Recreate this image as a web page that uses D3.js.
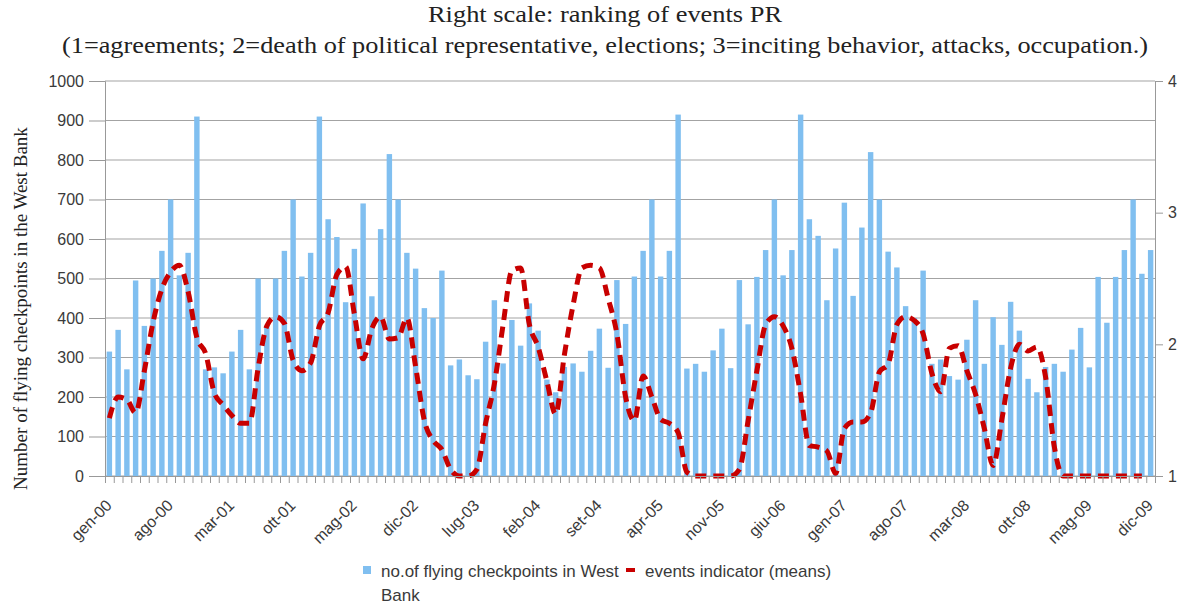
<!DOCTYPE html>
<html>
<head>
<meta charset="utf-8">
<script src="https://cdn.jsdelivr.net/npm/d3@7"></script>
<style>
    body { margin: 0; background: #fff; }
    svg { display: block; }
    .axis text { font-family: "Liberation Sans", Arial, sans-serif; font-size: 16px; fill: #3a3a3a; }
    .axis path, .axis line { stroke: #999999; }
    .serif { font-family: "Liberation Serif", "Times New Roman", serif; fill: #222; }
    .legend text { font-family: "Liberation Sans", Arial, sans-serif; font-size: 17px; fill: #3a3a3a; }
</style>
</head>
<body>
<svg id="chart" width="1180" height="608"></svg>
<script>
"use strict"

// month labels (Italian)
const monthNames = ["gen", "feb", "mar", "apr", "mag", "giu", "lug", "ago", "set", "ott", "nov", "dic"]
const years = ["00", "01", "02", "03", "04", "05", "06", "07", "08", "09"]

const tickLabels = ["gen-00", "ago-00", "mar-01", "ott-01", "mag-02", "dic-02", "lug-03", "feb-04", "set-04",
    "apr-05", "nov-05", "giu-06", "gen-07", "ago-07", "mar-08", "ott-08", "mag-09", "dic-09"]

// no. of flying checkpoints in West Bank (left scale), one per month
const checkpoints = [
    315, 370, 270, 495, 380, 500, 570, 700, 508, 565, 910, 270,
    275, 260, 315, 370, 270, 500, 380, 500, 570, 700, 505, 565,
    910, 650, 605, 440, 575, 690, 455, 625, 815, 700, 565, 525,
    425, 400, 520, 280, 295, 255, 245, 340, 445, 285, 395, 330,
    437, 368, 244, 212, 276, 285, 264, 317, 373, 274, 496, 385,
    505, 570, 700, 505, 570, 915, 272, 284, 264, 318, 373, 273,
    496, 384, 504, 572, 700, 508, 572, 915, 650, 608, 445, 576,
    692, 456, 629, 820, 700, 568, 528, 430, 400, 520, 284, 295,
    253, 244, 345, 445, 284, 402, 332, 441, 368, 246, 212, 276,
    284, 264, 320, 375, 275, 504, 388, 504, 572, 700, 512, 572
]

// events indicator (means), right scale
const eventsIndicator = [
    1.44, 1.60, 1.58, 1.48, 1.80, 2.17, 2.42, 2.55, 2.60, 2.40, 2.05, 1.93,
    1.63, 1.54, 1.46, 1.40, 1.40, 1.82, 2.14, 2.21, 2.16, 1.88, 1.80, 1.86,
    2.14, 2.24, 2.53, 2.59, 2.23, 1.89, 2.12, 2.21, 2.04, 2.05, 2.20, 1.83,
    1.42, 1.27, 1.20, 1.05, 1.00, 1.00, 1.05, 1.40, 1.70, 2.15, 2.56, 2.58,
    2.15, 1.98, 1.72, 1.47, 1.92, 2.30, 2.58, 2.60, 2.58, 2.35, 2.08, 1.60,
    1.42, 1.76, 1.60, 1.43, 1.40, 1.33, 1.03, 1.00, 1.00, 1.00, 1.00, 1.00,
    1.05, 1.42, 1.80, 2.15, 2.21, 2.14, 1.97, 1.62, 1.23, 1.22, 1.19, 1.02,
    1.36, 1.41, 1.41, 1.48, 1.79, 1.85, 2.15, 2.21, 2.18, 2.08, 1.78, 1.64,
    1.97, 1.99, 1.80, 1.62, 1.36, 1.08, 1.43, 1.82, 2.00, 1.95, 1.98, 1.75,
    1.22, 1.00, 1.00, 1.00, 1.00, 1.00, 1.00, 1.00, 1.00, 1.00, 1.00, null
]

const leftTicks = [0, 100, 200, 300, 400, 500, 600, 700, 800, 900, 1000]
const rightTicks = [1, 2, 3, 4]

const titleLines = [
    "Right scale: ranking of events PR",
    "(1=agreements; 2=death of political representative, elections; 3=inciting behavior, attacks, occupation.)"
]
const titleWidths = [354, 1086]
const yLabel = "Number of flying checkpoints in the West Bank"
const legendBars = ["no.of flying checkpoints in West", "Bank"]
const legendLine = "events indicator (means)"


const months = years.flatMap(yy => monthNames.map(m => m + "-" + yy))

const plot = { left: 105, right: 1155, top: 81, bottom: 476 }
const svg = d3.select("#chart")

const x = d3.scaleBand()
    .domain(months)
    .range([plot.left, plot.right])
    .paddingInner(0.38)
    .paddingOuter(0.19)

const xIndex = d3.scaleLinear()
    .domain([0, months.length])
    .range([plot.left, plot.right])

const y = d3.scaleLinear()
    .domain([0, 1000])
    .range([plot.bottom, plot.top])

const y2 = d3.scaleLinear()
    .domain([1, 4])
    .range([plot.bottom, plot.top])

// title
svg.selectAll(".title")
    .data(titleLines)
    .join("text")
    .attr("class", "title serif")
    .attr("x", 605)
    .attr("y", (d, i) => 22 + i * 31)
    .attr("text-anchor", "middle")
    .attr("textLength", (d, i) => titleWidths[i])
    .attr("lengthAdjust", "spacingAndGlyphs")
    .style("font-size", "23px")
    .text(d => d)

// gridlines
svg.append("g")
    .selectAll("line")
    .data(leftTicks)
    .join("line")
    .attr("x1", plot.left)
    .attr("x2", plot.right)
    .attr("y1", d => y(d))
    .attr("y2", d => y(d))
    .attr("stroke", "#a3a3a3")
    .attr("stroke-width", 1.2)

// bars
svg.append("g")
    .selectAll("rect")
    .data(checkpoints)
    .join("rect")
    .attr("x", (d, i) => x(months[i]))
    .attr("y", d => y(d))
    .attr("width", x.bandwidth())
    .attr("height", d => y(0) - y(d))
    .attr("fill", "#80bff0")

// events line
const line = d3.line()
    .defined(d => d != null)
    .x((d, i) => x(months[i]) + x.bandwidth() / 2)
    .y(d => y2(d))
    .curve(d3.curveMonotoneX)

svg.append("path")
    .datum(eventsIndicator)
    .attr("d", line)
    .attr("fill", "none")
    .attr("stroke", "#c80000")
    .attr("stroke-width", 5)
    .attr("stroke-dasharray", "11,7")

// left axis
svg.append("g")
    .attr("class", "axis")
    .attr("transform", `translate(${plot.left},0)`)
    .call(d3.axisLeft(y).tickValues(leftTicks).tickFormat(d3.format("d")).tickSize(16).tickPadding(5))

// right axis
svg.append("g")
    .attr("class", "axis")
    .attr("transform", `translate(${plot.right},0)`)
    .call(d3.axisRight(y2).tickValues(rightTicks).tickFormat(d3.format("d")).tickSize(8).tickPadding(5))

// month boundary ticks
svg.append("g")
    .attr("class", "axis")
    .attr("transform", `translate(0,${plot.bottom})`)
    .call(d3.axisBottom(xIndex).tickValues(d3.range(0, months.length + 1)).tickSize(7).tickFormat(""))

// month labels
svg.append("g")
    .attr("class", "axis")
    .attr("transform", `translate(0,${plot.bottom})`)
    .call(d3.axisBottom(x).tickValues(tickLabels).tickSize(0))
    .call(g => g.select(".domain").remove())
    .selectAll("text")
    .attr("text-anchor", "end")
    .attr("x", -19)
    .attr("y", 24)
    .attr("dy", 0)
    .attr("transform", "rotate(-45)")

// y label
svg.append("text")
    .attr("class", "serif")
    .attr("transform", `translate(27,${(plot.top + plot.bottom) / 2 + 30}) rotate(-90)`)
    .attr("text-anchor", "middle")
    .style("font-size", "19px")
    .text(yLabel)

// legend
const legend = svg.append("g").attr("class", "legend")

legend.append("rect")
    .attr("x", 363).attr("y", 566)
    .attr("width", 8).attr("height", 8)
    .attr("fill", "#80bff0")

legend.selectAll(".lb")
    .data(legendBars)
    .join("text")
    .attr("class", "lb")
    .attr("x", 381)
    .attr("y", (d, i) => 577 + i * 24)
    .text(d => d)

legend.append("rect")
    .attr("x", 626).attr("y", 568)
    .attr("width", 9).attr("height", 4)
    .attr("fill", "#c80000")

legend.append("text")
    .attr("x", 645)
    .attr("y", 577)
    .text(legendLine)
</script>
</body>
</html>
